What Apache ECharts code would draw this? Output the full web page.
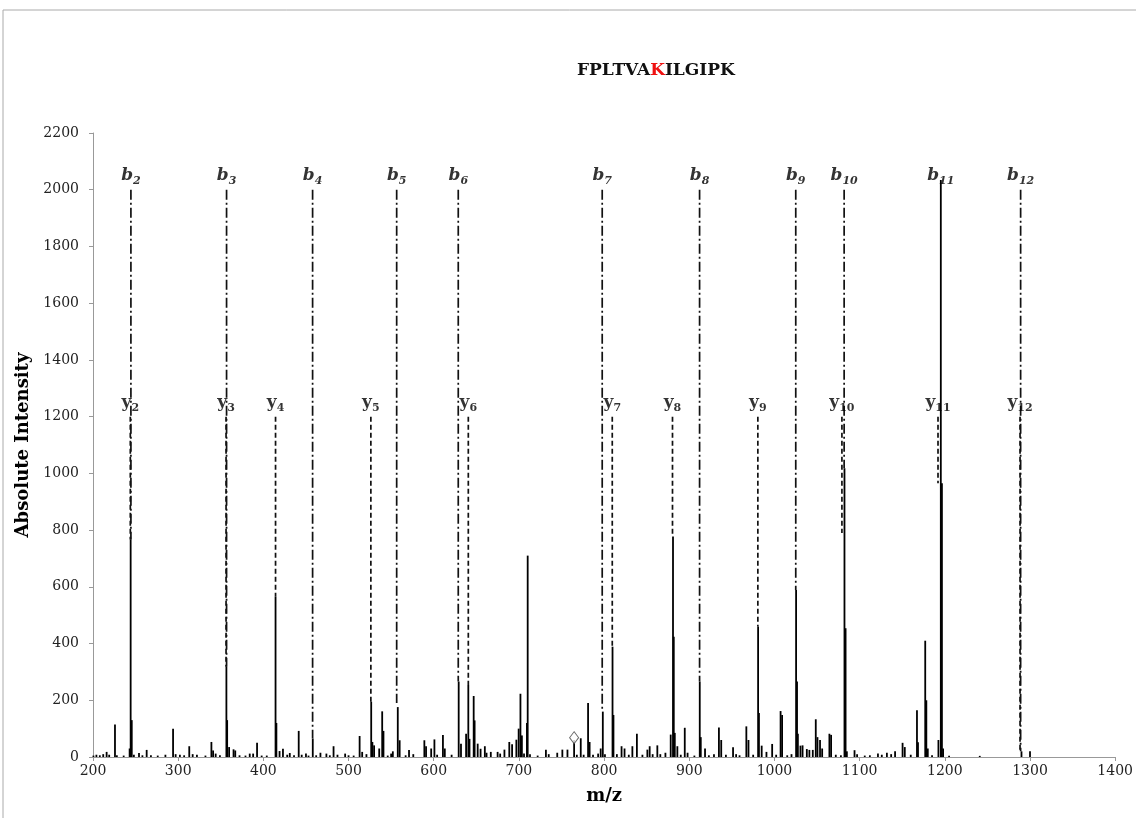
<!DOCTYPE html>
<html>
<head>
<meta charset="utf-8">
<title>FPLTVAKILGIPK</title>
<script src="https://cdn.jsdelivr.net/npm/echarts@6/dist/echarts.min.js"></script>
<style>
  html, body { margin: 0; padding: 0; background: #fff; }
  #chart { width: 1136px; height: 818px; }
</style>
</head>
<body>
<div id="chart"></div>
<script>
// peptide sequence, the modified residue is drawn in red
const seqBefore = 'FPLTVA';
const seqMod = 'K';
const seqAfter = 'ILGIPK';

// centroided spectrum (m/z, absolute intensity)
const peakMz = [
  200.5, 204, 208, 212, 216, 219, 225.8, 228, 236, 243, 244.2, 245.5, 248, 254, 258, 263, 268, 276, 285, 294,
  297, 302, 307, 313, 317, 322, 332, 339, 341, 344, 349, 356.6, 357.5, 359.8, 365, 367, 372, 379, 384, 388,
  392.6, 398, 404, 414.3, 415.3, 419, 423, 428, 431, 436, 441.5, 445, 450, 453, 458, 462, 467, 474, 478, 482.4,
  487, 496, 500, 506, 513, 516, 521, 526.6, 528, 530, 536, 539.5, 541, 546, 550, 552, 557.8, 560, 567, 571,
  576, 589, 591, 597, 600.8, 604, 610.8, 613, 621, 629.3, 632, 638, 640.6, 642, 646.9, 648, 651.6, 655, 660, 662,
  667, 675, 678, 683, 688.7, 692, 697, 699.7, 701.8, 703.5, 706, 709.4, 710.3, 713, 722, 731.7, 735, 745, 751, 757,
  764.8, 768, 772.6, 776, 781.2, 783, 787, 793, 796, 798.5, 801, 809.9, 811, 815, 820.5, 824, 829, 833.2, 838.5, 845,
  850.8, 853.5, 857, 862.5, 866, 872, 878.2, 880.9, 881.8, 883, 886, 890, 894.7, 898, 906, 912.3, 913.5, 918.5, 923, 929,
  934.8, 937.5, 943, 951.4, 955, 959, 967, 969.5, 975, 980.8, 981.8, 985, 990.6, 997.3, 1002, 1007.2, 1009, 1015, 1020, 1025.4,
  1026.5, 1027.5, 1030.5, 1033, 1038, 1041, 1045, 1048.5, 1050.5, 1053.5, 1056, 1064.5, 1066.5, 1072, 1078, 1082.2, 1083.5, 1085, 1094, 1097,
  1106, 1112, 1121.5, 1126, 1132, 1137, 1141.6, 1150.4, 1153, 1160, 1167.3, 1168.5, 1177, 1178.3, 1180, 1185, 1192.5, 1195.3, 1196.6, 1198,
  1205, 1241, 1290, 1300
];
const peakInt = [
  5, 8, 6, 10, 18, 8, 115, 6, 5, 30, 767, 130, 8, 14, 6, 25, 6, 5, 8, 100,
  10, 8, 6, 38, 10, 8, 5, 53, 23, 12, 6, 318, 130, 35, 27, 23, 6, 5, 12, 12,
  50, 5, 5, 565, 120, 21, 29, 8, 14, 6, 92, 8, 12, 5, 65, 6, 15, 12, 6, 38,
  8, 12, 6, 5, 74, 18, 10, 195, 53, 41, 30, 161, 92, 5, 12, 20, 176, 59, 6, 25,
  10, 59, 38, 30, 62, 8, 78, 30, 8, 266, 47, 82, 254, 64, 215, 129, 47, 29, 38, 15,
  18, 18, 12, 26, 53, 45, 61, 100, 223, 76, 12, 120, 710, 10, 5, 26, 10, 15, 26, 26,
  60, 8, 66, 8, 190, 53, 8, 12, 30, 160, 10, 389, 148, 10, 38, 30, 8, 38, 82, 8,
  26, 38, 10, 41, 10, 15, 79, 777, 424, 85, 38, 8, 103, 15, 5, 266, 70, 30, 6, 10,
  104, 60, 8, 34, 10, 6, 108, 60, 8, 460, 155, 40, 18, 46, 8, 162, 148, 6, 10, 589,
  266, 82, 40, 41, 28, 25, 25, 133, 70, 60, 30, 82, 78, 8, 6, 1018, 454, 20, 24, 10,
  5, 6, 12, 8, 15, 10, 20, 50, 35, 8, 165, 52, 410, 200, 30, 6, 60, 2034, 965, 30,
  4, 4, 20, 20
];

// b ions: label, m/z, intensity where the dash-dot guide stops
const bNames = ['2', '3', '4', '5', '6', '7', '8', '9', '10', '11', '12'];
const bMz = [244.5, 356.8, 457.8, 556.5, 628.8, 797.8, 912.1, 1025, 1081.8, 1195.3, 1289];
const bEnd = [767, 318, 65, 190, 266, 160, 266, 589, 1018, 2000, 20];

// y ions: label, m/z, intensity where the dashed guide stops
const yNames = ['2', '3', '4', '5', '6', '7', '8', '9', '10', '11', '12'];
const yMz = [243.8, 356.2, 414.3, 526.2, 640.6, 809.6, 880.3, 980.5, 1079.2, 1192, 1288.3];
const yEnd = [767, 318, 565, 195, 254, 389, 777, 460, 790, 965, 20];

const bTop = 2000;
const yTop = 1200;

// precursor marker
const precursor = [[764.8, 68]];

const serif = '"DejaVu Serif", "Liberation Serif", serif';

const chart = echarts.init(document.getElementById('chart'));

const peaks = peakMz.map((mz, i) => [mz, peakInt[i]]);
const bLines = bMz.map((mz, i) => [mz, bTop, Math.min(bEnd[i], bTop)]);
const yLines = yMz.map((mz, i) => [mz, yTop, yEnd[i]]);

const stick = (params, api) => {
  const top = api.coord([api.value(0), api.value(1)]);
  const base = api.coord([api.value(0), 0]);
  return {
    type: 'line',
    shape: { x1: top[0], y1: top[1], x2: base[0], y2: base[1] },
    style: { stroke: '#000', lineWidth: 1.8 }
  };
};

const guide = dash => (params, api) => {
  const a = api.coord([api.value(0), api.value(1)]);
  const b = api.coord([api.value(0), api.value(2)]);
  return {
    type: 'line',
    shape: { x1: a[0], y1: a[1], x2: b[0], y2: b[1] },
    style: { stroke: '#111', lineWidth: 1.7, lineDash: dash }
  };
};

const ionLabel = (letter, italic) => ({
  show: true,
  position: 'top',
  distance: 3,
  formatter: p => `{m|${letter}}{s|${p.data[2]}}`,
  rich: {
    m: { fontFamily: serif, fontSize: 17, fontWeight: 'bold', fontStyle: italic ? 'italic' : 'normal', color: '#000', lineHeight: 22 },
    s: { fontFamily: serif, fontSize: 11, fontWeight: 'bold', fontStyle: italic ? 'italic' : 'normal', color: '#000', lineHeight: 12, verticalAlign: 'bottom' }
  }
});

chart.setOption({
  animation: false,
  backgroundColor: '#fff',
  title: {
    text: `{a|${seqBefore}}{r|${seqMod}}{a|${seqAfter}}`,
    left: 572,
    top: 57,
    textStyle: {
      rich: {
        a: { fontFamily: serif, fontSize: 17, color: '#111' },
        r: { fontFamily: serif, fontSize: 17, color: '#ee1111' }
      }
    }
  },
  grid: { left: 93, right: 19, top: 133, bottom: 61 },
  xAxis: {
    type: 'value',
    min: 200,
    max: 1400,
    interval: 100,
    name: 'm/z',
    nameLocation: 'middle',
    nameGap: 30,
    nameTextStyle: { fontFamily: serif, fontSize: 18, fontWeight: 'bold', color: '#000' },
    axisLine: { lineStyle: { color: '#999', width: 1 } },
    axisTick: { length: 4, lineStyle: { color: '#999' } },
    axisLabel: { fontFamily: serif, fontSize: 14, color: '#222', margin: 7, formatter: v => String(v) },
    splitLine: { show: false }
  },
  yAxis: {
    type: 'value',
    min: 0,
    max: 2200,
    interval: 200,
    name: 'Absolute Intensity',
    nameLocation: 'middle',
    nameRotate: 90,
    nameGap: 54,
    nameTextStyle: { fontFamily: serif, fontSize: 18, fontWeight: 'bold', color: '#000' },
    axisLine: { show: true, lineStyle: { color: '#999', width: 1 } },
    axisTick: { show: true, length: 4, lineStyle: { color: '#999' } },
    axisLabel: { fontFamily: serif, fontSize: 14, color: '#222', margin: 14, formatter: v => String(v) },
    splitLine: { show: false }
  },
  graphic: [{
    type: 'polyline',
    shape: { points: [[3, 818], [3, 10], [1136, 10]] },
    style: { stroke: '#aaa', lineWidth: 1, fill: null },
    silent: true
  }],
  series: [
    {
      name: 'spectrum',
      type: 'custom',
      renderItem: stick,
      encode: { x: 0, y: 1 },
      data: peaks,
      z: 3
    },
    {
      name: 'b guides',
      type: 'custom',
      renderItem: guide([10, 3, 2, 3]),
      encode: { x: 0, y: [1, 2] },
      data: bLines,
      z: 2
    },
    {
      name: 'y guides',
      type: 'custom',
      renderItem: guide([5, 3]),
      encode: { x: 0, y: [1, 2] },
      data: yLines,
      z: 2
    },
    {
      name: 'b labels',
      type: 'scatter',
      symbolSize: 0,
      data: bMz.map((mz, i) => [mz, bTop, bNames[i]]),
      label: ionLabel('b', true),
      z: 4
    },
    {
      name: 'y labels',
      type: 'scatter',
      symbolSize: 0,
      data: yMz.map((mz, i) => [mz, yTop, yNames[i]]),
      label: ionLabel('y', false),
      z: 4
    },
    {
      name: 'precursor',
      type: 'scatter',
      symbol: 'diamond',
      symbolSize: [9, 12],
      itemStyle: { color: '#fff', borderColor: '#444', borderWidth: 1 },
      data: precursor,
      z: 5
    }
  ]
});
</script>
</body>
</html>
